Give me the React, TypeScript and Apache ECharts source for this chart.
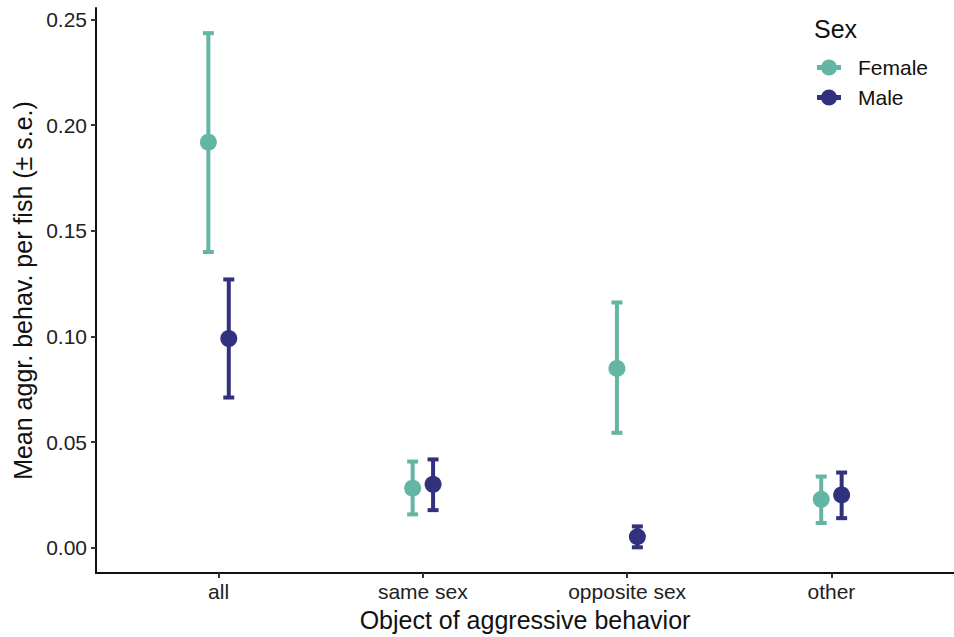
import React, { useEffect, useRef } from "react";
import * as echarts from "echarts";

const categories = ["all", "same sex", "opposite sex", "other"];
const femaleMean = [0.192, 0.0282, 0.0849, 0.0229];
const femaleLower = [0.14, 0.0158, 0.0544, 0.0117];
const femaleUpper = [0.2436, 0.0408, 0.1161, 0.0337];
const maleMean = [0.099, 0.03, 0.0052, 0.025];
const maleLower = [0.0711, 0.0178, 0.0002, 0.014];
const maleUpper = [0.127, 0.0418, 0.0101, 0.0356];
const yTicks = [0, 0.05, 0.1, 0.15, 0.2, 0.25];
const seriesNames = ["Female", "Male"];

const FEMALE = "#64b5a3";
const MALE = "#31317e";
const FONT = "'Liberation Sans', Arial, Helvetica, sans-serif";
const DODGE = 0.05;

export default function App() {
  const ref = useRef<HTMLDivElement>(null);
  useEffect(() => {
    if (!ref.current) return;
    const chart = echarts.init(ref.current, undefined, { renderer: "svg" });

    const pts = (means: number[], off: number) =>
      means.map((m, i) => [i + 1 + off, m]);
    const errs = (lo: number[], hi: number[], off: number) =>
      lo.map((l, i) => [i + 1 + off, l, hi[i]]);

    const errSeries = (name: string, data: number[][], color: string) => ({
      type: "custom",
      name,
      data,
      encode: { x: 0, y: [1, 2] },
      z: 2,
      renderItem: (params: any, api: any) => {
        const x = api.value(0);
        const p1 = api.coord([x, api.value(1)]);
        const p2 = api.coord([x, api.value(2)]);
        const hw = 5.5;
        const st = { stroke: color, lineWidth: 4, lineCap: "butt" };
        return {
          type: "group",
          children: [
            { type: "line", shape: { x1: p1[0], y1: p1[1], x2: p2[0], y2: p2[1] }, style: st },
            { type: "line", shape: { x1: p1[0] - hw, y1: p1[1], x2: p1[0] + hw, y2: p1[1] }, style: st },
            { type: "line", shape: { x1: p2[0] - hw, y1: p2[1], x2: p2[0] + hw, y2: p2[1] }, style: st },
          ],
        };
      },
    });

    const iconPath =
      "path://M0,5.5 L24,5.5 L24,10.5 L0,10.5 Z M12,0 A8,8 0 1 1 12,16 A8,8 0 1 1 12,0 Z";

    chart.setOption({
      animation: false,
      backgroundColor: "#ffffff",
      textStyle: { fontFamily: FONT },
      title: {
        text: "Sex",
        left: 814,
        top: 16,
        padding: 0,
        textStyle: { fontFamily: FONT, fontSize: 25, fontWeight: "normal", color: "#111" },
      },
      legend: {
        data: seriesNames,
        orient: "vertical",
        left: 817,
        top: 57,
        padding: 0,
        itemWidth: 24,
        itemHeight: 16,
        itemGap: 9,
        icon: iconPath,
        selectedMode: false,
        textStyle: { fontFamily: FONT, fontSize: 21, color: "#111", padding: [0, 0, 0, 12] },
      },
      grid: { left: 96, top: 8, width: 862, height: 566, containLabel: false },
      xAxis: {
        type: "value",
        min: 0.4,
        max: 4.6,
        name: "Object of aggressive behavior",
        nameLocation: "middle",
        nameGap: 34,
        nameTextStyle: { fontFamily: FONT, fontSize: 25, color: "#111" },
        splitLine: { show: false },
        axisLine: { show: true, onZero: false, lineStyle: { color: "#111", width: 2 } },
        axisTick: { show: true, length: 5, customValues: [1, 2, 3, 4], lineStyle: { color: "#333", width: 2 } },
        axisLabel: {
          customValues: [1, 2, 3, 4],
          formatter: (v: number) => categories[Math.round(v) - 1] ?? "",
          margin: 8,
          fontFamily: FONT,
          fontSize: 21,
          color: "#222",
        },
      },
      yAxis: {
        type: "value",
        min: -0.01196,
        max: 0.2555,
        name: "Mean aggr. behav. per fish (\u00b1 s.e.)",
        nameLocation: "middle",
        nameGap: 57,
        nameTextStyle: { fontFamily: FONT, fontSize: 25, color: "#111" },
        splitLine: { show: false },
        axisLine: { show: true, onZero: false, lineStyle: { color: "#111", width: 2 } },
        axisTick: { show: true, length: 5, customValues: yTicks, lineStyle: { color: "#333", width: 2 } },
        axisLabel: {
          customValues: yTicks,
          formatter: (v: number) => v.toFixed(2),
          margin: 9,
          fontFamily: FONT,
          fontSize: 21,
          color: "#222",
        },
      },
      series: [
        errSeries("FemaleErr", errs(femaleLower, femaleUpper, -DODGE), FEMALE),
        errSeries("MaleErr", errs(maleLower, maleUpper, DODGE), MALE),
        {
          type: "scatter",
          name: "Female",
          data: pts(femaleMean, -DODGE),
          symbolSize: 17,
          itemStyle: { color: FEMALE, opacity: 1 },
          z: 3,
        },
        {
          type: "scatter",
          name: "Male",
          data: pts(maleMean, DODGE),
          symbolSize: 17,
          itemStyle: { color: MALE, opacity: 1 },
          z: 3,
        },
      ],
    });
    return () => chart.dispose();
  }, []);

  return (
    <div
      ref={ref}
      style={{ position: "fixed", left: 0, top: 0, width: 954, height: 637 }}
    />
  );
}
